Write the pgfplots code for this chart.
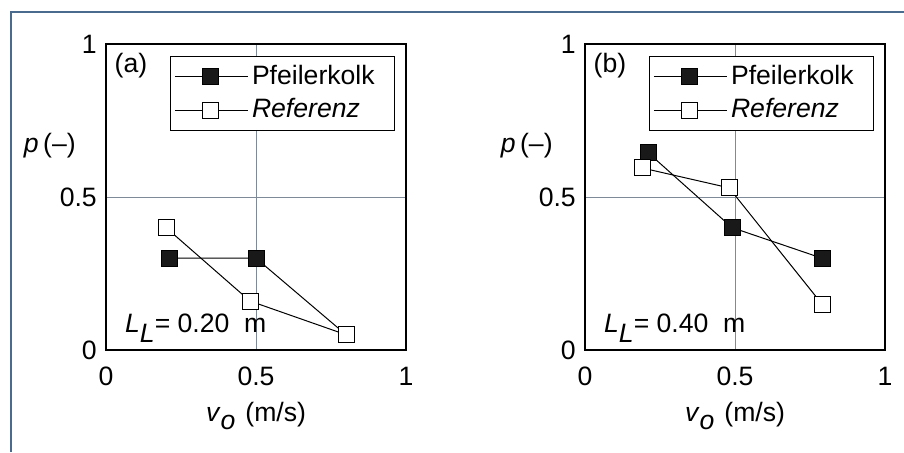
\documentclass[border=0pt]{standalone}
\usepackage{fontspec}
\setmainfont{Liberation Sans}
\usepackage{pgfplots}
\pgfplotsset{compat=1.18}

\definecolor{framecol}{HTML}{4A6A8E}
\definecolor{gridcol}{HTML}{7E8A98}
\newcommand\myfont{\fontsize{13.3}{15.5}\selectfont}

\pgfplotsset{
  panel/.style={
    scale only axis, width=150pt, height=153pt,
    xmin=0, xmax=1, ymin=0, ymax=1,
    xtick={0,0.5,1}, ytick={0,0.5,1},
    major tick length=0pt,
    grid=major, grid style={gridcol, line width=0.45pt},
    axis line style={line width=1.1pt},
    tick label style={font=\myfont},
    /pgf/number format/assume math mode=true,
    xticklabel style={yshift=-4pt},
    clip=false,
    legend style={at={(0.963,0.961)}, anchor=north east, draw=black, line width=0.6pt,
      font=\myfont, inner xsep=2pt, inner ysep=2.5pt, row sep=1.5pt,
      cells={anchor=west, font=\myfont}, nodes={inner sep=1.8pt}},
    legend image code/.code={\draw[mark repeat=2,mark phase=2] plot coordinates {(0pt,0pt) (18pt,0pt) (36.5pt,0pt)};},
  },
  pk/.style={black, line width=0.5pt, mark=square*, mark size=4pt, mark options={fill=black!90, draw=black, line width=0.5pt}},
  rf/.style={black, line width=0.5pt, mark=square*, mark size=4pt, mark options={fill=white, draw=black, line width=0.5pt}},
}

\begin{document}
\myfont
\begin{tikzpicture}[font=\myfont]
\useasboundingbox (0,0) rectangle (452pt,226pt);
\fill[white] (0,0) rectangle (452pt,226pt);
\draw[framecol, line width=1pt] (5.5pt,0) -- (5.5pt,220pt) -- (452pt,220pt);

% Panel (a)
\begin{axis}[panel, at={(53pt,51pt)}, anchor=south west]
\addplot[pk] coordinates {(0.21,0.30) (0.50,0.30) (0.80,0.05)};
\addlegendentry{Pfeilerkolk\hspace*{6pt}}
\addplot[rf] coordinates {(0.20,0.40) (0.48,0.16) (0.80,0.05)};
\addlegendentry{\textit{Referenz}}
\node[font=\myfont, anchor=center] at (rel axis cs:0.083,0.928) {(a)};
\node[font=\myfont, anchor=base west] at (rel axis cs:0.033,0.056) {\textit{L}\raisebox{-5pt}{\textit{L}}= 0.20\ \ m};
\node[font=\myfont, anchor=base east] at (rel axis cs:-0.07,0.647) {\textit{p}\,(–)};
\node[font=\myfont, anchor=base] at (rel axis cs:0.5,-0.232) {\textit{v}\raisebox{-4.5pt}{\textit{o}}\hspace{5pt}(m/s)};
\end{axis}

% Panel (b)
\begin{axis}[panel, at={(292.5pt,51pt)}, anchor=south west]
\addplot[pk] coordinates {(0.21,0.645) (0.49,0.40) (0.79,0.30)};
\addlegendentry{Pfeilerkolk\hspace*{6pt}}
\addplot[rf] coordinates {(0.19,0.595) (0.48,0.53) (0.79,0.15)};
\addlegendentry{\textit{Referenz}}
\node[font=\myfont, anchor=center] at (rel axis cs:0.083,0.928) {(b)};
\node[font=\myfont, anchor=base west] at (rel axis cs:0.033,0.056) {\textit{L}\raisebox{-5pt}{\textit{L}}= 0.40\ \ m};
\node[font=\myfont, anchor=base east] at (rel axis cs:-0.077,0.647) {\textit{p}\,(–)};
\node[font=\myfont, anchor=base] at (rel axis cs:0.5,-0.232) {\textit{v}\raisebox{-4.5pt}{\textit{o}}\hspace{5pt}(m/s)};
\end{axis}
\end{tikzpicture}
\end{document}
